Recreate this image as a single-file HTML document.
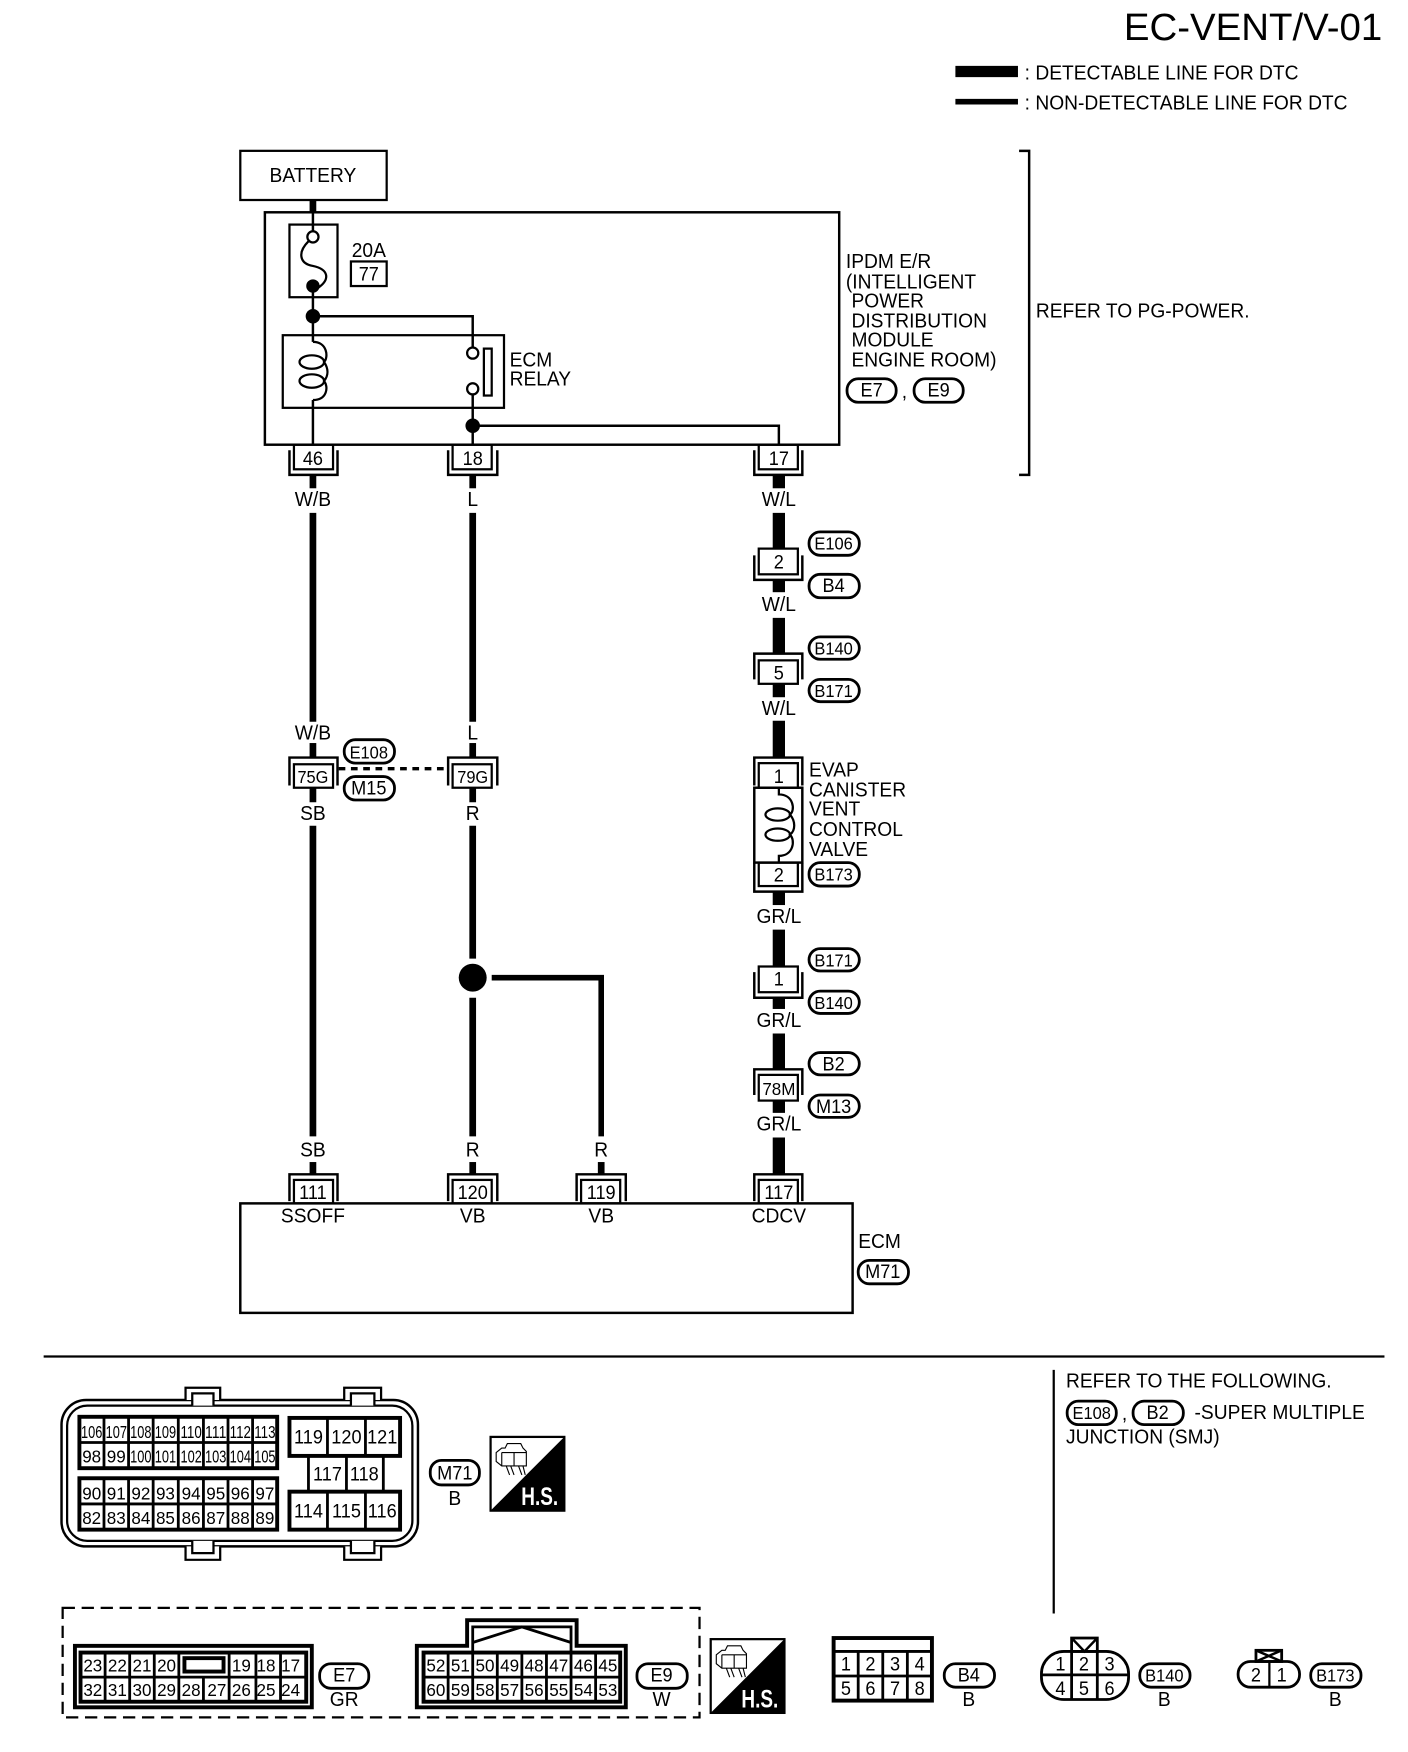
<!DOCTYPE html>
<html><head><meta charset="utf-8"><style>
html,body{margin:0;padding:0;background:#fff}
svg{display:block}
text{font-family:"Liberation Sans",sans-serif;font-size:18px;fill:#000;transform-box:fill-box;transform-origin:0 50%;transform:scaleX(.955)}
.m{text-anchor:middle}
.s{font-size:16px;text-anchor:middle}
.n{font-size:17px;text-anchor:middle}
.l{font-size:17px;text-anchor:middle}
.m,.s,.n,.l{transform-origin:50% 50%}
rect,path,circle,line,ellipse{fill:none;stroke:#000;stroke-width:2}
.w6{stroke-width:6}.w5{stroke-width:5}.w11{stroke-width:11}.w3{stroke-width:2.2}
.g{stroke-width:2.5}.o{stroke-width:3.5}
.f{fill:#000;stroke:none}
.ov{stroke-width:2.5}
</style></head><body>
<svg xmlns="http://www.w3.org/2000/svg" width="1408" height="1752" viewBox="0 0 1260 1568">
<rect x="0" y="0" width="1260" height="1568" style="fill:#fff;stroke:none"/>
<text x="1237" y="36" text-anchor="end" style="font-size:34.4px;transform:none">EC-VENT/V-01</text>
<line x1="855" y1="64" x2="911" y2="64" style="stroke-width:10"/>
<line x1="855" y1="91" x2="911" y2="91" class="w5"/>
<text x="917" y="71">: DETECTABLE LINE FOR DTC</text>
<text x="917" y="98">: NON-DETECTABLE LINE FOR DTC</text>

<rect x="215" y="135" width="131" height="44"/>
<text x="280" y="163" class="m">BATTERY</text>
<line x1="280" y1="179" x2="280" y2="190" class="w6"/>
<rect x="237" y="190" width="514" height="208" class="w3"/>
<rect x="259" y="201" width="43" height="65"/>
<line x1="280" y1="190" x2="280" y2="207" class="w3"/>
<circle cx="280" cy="212" r="5"/>
<path d="M276 216C266 226 268 236 280 238C294 241 296 250 284 258"/>
<circle cx="280" cy="256" r="6" class="f"/>
<line x1="280" y1="256" x2="280" y2="306" class="w3"/>
<circle cx="280" cy="283" r="6.5" class="f"/>
<path d="M280 283H423V311" class="w3"/>
<rect x="253" y="300" width="198" height="65"/>
<path d="M280 306C293 306 294 320 290 324C294 330 294 336 290 341C294 346 293 358 280 358"/>
<ellipse cx="279" cy="324" rx="11" ry="6"/>
<ellipse cx="279" cy="341" rx="11" ry="6"/>
<line x1="280" y1="358" x2="280" y2="398" class="w3"/>
<circle cx="423" cy="316" r="5"/>
<circle cx="423" cy="348" r="5"/>
<rect x="433" y="312" width="7" height="42"/>
<line x1="423" y1="353" x2="423" y2="398" class="w3"/>
<circle cx="423" cy="381" r="6.5" class="f"/>
<path d="M423 381H697V398" class="w3"/>
<text x="330" y="230" class="m">20A</text>
<rect x="314" y="234" width="32" height="22"/>
<text x="330" y="251" class="l">77</text>
<text x="456" y="328">ECM</text>
<text x="456" y="345">RELAY</text>
<text x="757" y="240">IPDM E/R</text>
<text x="757" y="258">(INTELLIGENT</text>
<text x="762" y="275">POWER</text>
<text x="762" y="293">DISTRIBUTION</text>
<text x="762" y="310">MODULE</text>
<text x="762" y="328">ENGINE ROOM)</text>
<rect x="758" y="339" width="44" height="21" rx="10" class="ov"/><text x="780" y="355" class="l">E7</text>
<text x="807" y="356">,</text>
<rect x="818" y="339" width="44" height="21" rx="10" class="ov"/><text x="840" y="355" class="l">E9</text>
<path d="M912 135H921V425H912" class="w3"/>
<text x="927" y="284">REFER TO PG-POWER.</text>

<!-- top connectors -->
<rect x="263" y="398" width="35" height="22"/><text x="280" y="416" class="l">46</text>
<path d="M259 403V425H302V403" class="w3"/>
<rect x="405" y="398" width="35" height="22"/><text x="423" y="416" class="l">18</text>
<path d="M401 403V425H445V403" class="w3"/>
<rect x="679" y="398" width="35" height="22"/><text x="697" y="416" class="l">17</text>
<path d="M675 403V425H718V403" class="w3"/>

<!-- column 280 -->
<line x1="280" y1="425" x2="280" y2="437" class="w6"/>
<text x="280" y="453" class="m">W/B</text>
<line x1="280" y1="459" x2="280" y2="646" class="w6"/>
<text x="280" y="662" class="m">W/B</text>
<line x1="280" y1="665" x2="280" y2="678" class="w6"/>
<path d="M259 703V678H302V703" class="w3"/>
<rect x="263" y="684" width="35" height="21"/><text x="280" y="701" class="s" textLength="29" lengthAdjust="spacingAndGlyphs">75G</text>
<line x1="280" y1="705" x2="280" y2="718" class="w6"/>
<text x="280" y="734" class="m">SB</text>
<line x1="280" y1="739" x2="280" y2="1017" class="w6"/>
<text x="280" y="1035" class="m">SB</text>
<line x1="280" y1="1040" x2="280" y2="1051" class="w6"/>
<path d="M259 1075V1051H302V1075" class="w3"/>
<rect x="263" y="1056" width="35" height="21"/><text x="280" y="1073" class="n">111</text>

<!-- column 423 -->
<line x1="423" y1="425" x2="423" y2="437" class="w6"/>
<text x="423" y="453" class="m">L</text>
<line x1="423" y1="459" x2="423" y2="646" class="w6"/>
<text x="423" y="662" class="m">L</text>
<line x1="423" y1="665" x2="423" y2="678" class="w6"/>
<path d="M401 703V678H445V703" class="w3"/>
<rect x="405" y="684" width="35" height="21"/><text x="423" y="701" class="s" textLength="29" lengthAdjust="spacingAndGlyphs">79G</text>
<line x1="423" y1="705" x2="423" y2="718" class="w6"/>
<text x="423" y="734" class="m">R</text>
<line x1="423" y1="739" x2="423" y2="858" class="w6"/>
<circle cx="423" cy="875" r="12.5" class="f"/>
<line x1="423" y1="893" x2="423" y2="1017" class="w6"/>
<path d="M440 875H538V1017" class="w5"/>
<text x="423" y="1035" class="m">R</text>
<text x="538" y="1035" class="m">R</text>
<line x1="423" y1="1040" x2="423" y2="1051" class="w6"/>
<line x1="538" y1="1040" x2="538" y2="1051" class="w6"/>
<path d="M401 1075V1051H445V1075" class="w3"/>
<rect x="405" y="1056" width="35" height="21"/><text x="423" y="1073" class="n">120</text>
<path d="M516 1075V1051H560V1075" class="w3"/>
<rect x="520" y="1056" width="35" height="21"/><text x="538" y="1073" class="n">119</text>
<line x1="303" y1="688" x2="401" y2="688" style="stroke-width:3;stroke-dasharray:6 5"/>

<!-- column 697 -->
<line x1="697" y1="425" x2="697" y2="437" class="w11"/>
<text x="697" y="453" class="m">W/L</text>
<line x1="697" y1="459" x2="697" y2="491" class="w11"/>
<rect x="679" y="491" width="35" height="23" style="fill:#fff"/><text x="697" y="509" class="l">2</text>
<path d="M675 497V519H718V497" class="w3"/>
<line x1="697" y1="519" x2="697" y2="530" class="w11"/>
<text x="697" y="547" class="m">W/L</text>
<line x1="697" y1="553" x2="697" y2="585" class="w11"/>
<path d="M675 608V585H718V608" class="w3"/>
<rect x="679" y="591" width="35" height="21"/><text x="697" y="608" class="l">5</text>
<line x1="697" y1="612" x2="697" y2="624" class="w11"/>
<text x="697" y="640" class="m">W/L</text>
<line x1="697" y1="645" x2="697" y2="678" class="w11"/>
<path d="M675 703V678H718V703" class="w3"/>
<rect x="679" y="683" width="35" height="22"/><text x="697" y="701" class="l">1</text>
<rect x="675" y="705" width="43" height="67" class="w3"/>
<path d="M697 705V711C710 711 712 725 707 729C712 735 712 743 707 747C712 752 710 766 697 766V772"/>
<ellipse cx="696" cy="729" rx="11" ry="5.500"/>
<ellipse cx="696" cy="747" rx="11" ry="5.500"/>
<rect x="679" y="772" width="35" height="21"/><text x="697" y="789" class="l">2</text>
<path d="M675 772V798H718V772" class="w3"/>
<line x1="697" y1="798" x2="697" y2="810" class="w11"/>
<text x="697" y="826" class="m">GR/L</text>
<line x1="697" y1="832" x2="697" y2="865" class="w11"/>
<rect x="679" y="865" width="35" height="23"/><text x="697" y="882" class="l">1</text>
<path d="M675 870V893H718V870" class="w3"/>
<line x1="697" y1="893" x2="697" y2="903" class="w11"/>
<text x="697" y="919" class="m">GR/L</text>
<line x1="697" y1="925" x2="697" y2="957" class="w11"/>
<path d="M675 980V957H718V980" class="w3"/>
<rect x="679" y="962" width="35" height="23"/><text x="697" y="980" class="s" textLength="31" lengthAdjust="spacingAndGlyphs">78M</text>
<line x1="697" y1="985" x2="697" y2="996" class="w11"/>
<text x="697" y="1012" class="m">GR/L</text>
<line x1="697" y1="1018" x2="697" y2="1051" class="w11"/>
<path d="M675 1075V1051H718V1075" class="w3"/>
<rect x="679" y="1056" width="35" height="21"/><text x="697" y="1073" class="n">117</text>

<!-- ovals -->
<rect x="724" y="476" width="45" height="21" rx="10" class="ov"/><text x="746" y="492" class="s" textLength="36" lengthAdjust="spacingAndGlyphs">E106</text>
<rect x="724" y="514" width="45" height="21" rx="10" class="ov"/><text x="746" y="530" class="l">B4</text>
<rect x="724" y="570" width="45" height="20" rx="10" class="ov"/><text x="746" y="586" class="s" textLength="36" lengthAdjust="spacingAndGlyphs">B140</text>
<rect x="724" y="608" width="45" height="20" rx="10" class="ov"/><text x="746" y="624" class="s" textLength="36" lengthAdjust="spacingAndGlyphs">B171</text>
<rect x="724" y="772" width="45" height="21" rx="10" class="ov"/><text x="746" y="788" class="s" textLength="36" lengthAdjust="spacingAndGlyphs">B173</text>
<rect x="724" y="849" width="45" height="20" rx="10" class="ov"/><text x="746" y="865" class="s" textLength="36" lengthAdjust="spacingAndGlyphs">B171</text>
<rect x="724" y="887" width="45" height="20" rx="10" class="ov"/><text x="746" y="903" class="s" textLength="36" lengthAdjust="spacingAndGlyphs">B140</text>
<rect x="724" y="942" width="45" height="20" rx="10" class="ov"/><text x="746" y="958" class="l">B2</text>
<rect x="724" y="980" width="45" height="20" rx="10" class="ov"/><text x="746" y="996" class="l">M13</text>
<rect x="308" y="662" width="45" height="21" rx="10" class="ov"/><text x="330" y="679" class="s" textLength="36" lengthAdjust="spacingAndGlyphs">E108</text>
<rect x="308" y="695" width="45" height="21" rx="10" class="ov"/><text x="330" y="711" class="l">M15</text>
<rect x="768" y="1128" width="45" height="21" rx="10" class="ov"/><text x="790" y="1144" class="l">M71</text>

<text x="724" y="695">EVAP</text>
<text x="724" y="713">CANISTER</text>
<text x="724" y="730">VENT</text>
<text x="724" y="748">CONTROL</text>
<text x="724" y="766">VALVE</text>

<rect x="215" y="1077" width="548" height="98" class="w3"/>
<text x="280" y="1094" class="m">SSOFF</text>
<text x="423" y="1094" class="m">VB</text>
<text x="538" y="1094" class="m">VB</text>
<text x="697" y="1094" class="m">CDCV</text>
<text x="768" y="1117">ECM</text>

<line x1="39" y1="1214" x2="1239" y2="1214"/>
<line x1="943" y1="1226" x2="943" y2="1444"/>
<text x="954" y="1242">REFER TO THE FOLLOWING.</text>
<rect x="955" y="1254" width="44" height="21" rx="10" class="ov"/><text x="977" y="1270" class="s" textLength="36" lengthAdjust="spacingAndGlyphs">E108</text>
<text x="1004" y="1271">,</text>
<rect x="1014" y="1254" width="45" height="21" rx="10" class="ov"/><text x="1036" y="1270" class="l">B2</text>
<text x="1069" y="1270">-SUPER MULTIPLE</text>
<text x="954" y="1292">JUNCTION (SMJ)</text>

<!-- M71 connector -->
<rect x="55" y="1253" width="319" height="131" rx="22" class="w3"/>
<rect x="60" y="1258" width="309" height="121" rx="18"/>
<path d="M166 1253V1242H197V1253M172 1258V1247H191V1258" style="fill:#fff"/>
<path d="M308 1253V1242H341V1253M314 1258V1247H335V1258" style="fill:#fff"/>
<path d="M166 1384V1396H197V1384M172 1379V1390H191V1379" style="fill:#fff"/>
<path d="M308 1384V1396H341V1384M314 1379V1390H335V1379" style="fill:#fff"/>

<rect x="71" y="1268" width="177" height="46" class="o"/>
<path d="M71 1291H248M93 1268V1314M115 1268V1314M137 1268V1314M159.500 1268V1314M182 1268V1314M204 1268V1314M226 1268V1314" class="g"/>
<g>
<text x="82" y="1287" class="s" textLength="20" lengthAdjust="spacingAndGlyphs">106</text><text x="104" y="1287" class="s" textLength="20" lengthAdjust="spacingAndGlyphs">107</text><text x="126" y="1287" class="s" textLength="20" lengthAdjust="spacingAndGlyphs">108</text><text x="148" y="1287" class="s" textLength="20" lengthAdjust="spacingAndGlyphs">109</text><text x="171" y="1287" class="s" textLength="20" lengthAdjust="spacingAndGlyphs">110</text><text x="193" y="1287" class="s" textLength="20" lengthAdjust="spacingAndGlyphs">111</text><text x="215" y="1287" class="s" textLength="20" lengthAdjust="spacingAndGlyphs">112</text><text x="237" y="1287" class="s" textLength="20" lengthAdjust="spacingAndGlyphs">113</text>
<text x="82" y="1309" class="s">98</text><text x="104" y="1309" class="s">99</text><text x="126" y="1309" class="s" textLength="20" lengthAdjust="spacingAndGlyphs">100</text><text x="148" y="1309" class="s" textLength="20" lengthAdjust="spacingAndGlyphs">101</text><text x="171" y="1309" class="s" textLength="20" lengthAdjust="spacingAndGlyphs">102</text><text x="193" y="1309" class="s" textLength="20" lengthAdjust="spacingAndGlyphs">103</text><text x="215" y="1309" class="s" textLength="20" lengthAdjust="spacingAndGlyphs">104</text><text x="237" y="1309" class="s" textLength="20" lengthAdjust="spacingAndGlyphs">105</text>
</g>
<rect x="71" y="1323" width="177" height="46" class="o"/>
<path d="M71 1346H248M93 1323V1369M115 1323V1369M137 1323V1369M159.500 1323V1369M182 1323V1369M204 1323V1369M226 1323V1369" class="g"/>
<g>
<text x="82" y="1342" class="s">90</text><text x="104" y="1342" class="s">91</text><text x="126" y="1342" class="s">92</text><text x="148" y="1342" class="s">93</text><text x="171" y="1342" class="s">94</text><text x="193" y="1342" class="s">95</text><text x="215" y="1342" class="s">96</text><text x="237" y="1342" class="s">97</text>
<text x="82" y="1364" class="s">82</text><text x="104" y="1364" class="s">83</text><text x="126" y="1364" class="s">84</text><text x="148" y="1364" class="s">85</text><text x="171" y="1364" class="s">86</text><text x="193" y="1364" class="s">87</text><text x="215" y="1364" class="s">88</text><text x="237" y="1364" class="s">89</text>
</g>
<rect x="259" y="1269" width="99" height="34" class="o"/>
<path d="M293 1269V1303M327 1269V1303" class="g"/>
<rect x="259" y="1335" width="99" height="34" class="o"/>
<path d="M293 1335V1369M327 1335V1369" class="g"/>
<path d="M276 1303V1335M310 1303V1335M343 1303V1335" class="g"/>
<text x="276" y="1292" class="l">119</text><text x="310" y="1292" class="l">120</text><text x="342" y="1292" class="l">121</text>
<text x="293" y="1325" class="l">117</text><text x="326" y="1325" class="l">118</text>
<text x="276" y="1358" class="l">114</text><text x="310" y="1358" class="l">115</text><text x="342" y="1358" class="l">116</text>
<rect x="385" y="1307" width="44" height="22" rx="10" class="ov"/><text x="407" y="1324" class="l">M71</text>
<text x="407" y="1347" class="m">B</text>

<!-- HS icon 1 -->
<rect x="439" y="1286" width="66" height="66"/>
<path d="M505 1286V1352H439Z" class="f"/>
<path d="M444 1300L449 1296H452L454 1292H466L468 1296L471 1299V1312H449L444 1308ZM449 1300H471M449 1300V1312M460 1300V1312M453 1312L456 1320M457 1312L460 1320M464 1312L467 1320M468 1312L470 1320" style="stroke-width:1"/>
<text x="483" y="1347" text-anchor="middle" style="fill:#fff;font-weight:bold;font-size:22px;transform:none" textLength="33" lengthAdjust="spacingAndGlyphs">H.S.</text>

<!-- dashed -->
<rect x="56" y="1439" width="570" height="98" style="stroke-dasharray:11 6"/>

<!-- E7 connector -->
<rect x="67" y="1473" width="212" height="55" class="o"/>
<rect x="72" y="1479" width="202" height="44" class="o"/>
<path d="M72 1501H274M94 1479V1523M116 1479V1523M138 1479V1523M160 1479V1523M182 1501V1523M205 1479V1523M229 1479V1523M251 1479V1523" class="g"/>
<rect x="165" y="1484" width="35" height="12" class="o"/>
<text x="83" y="1496" class="s">23</text><text x="105" y="1496" class="s">22</text><text x="127" y="1496" class="s">21</text><text x="149" y="1496" class="s">20</text><text x="216" y="1496" class="s">19</text><text x="238" y="1496" class="s">18</text><text x="260" y="1496" class="s">17</text>
<text x="83" y="1518" class="s">32</text><text x="105" y="1518" class="s">31</text><text x="127" y="1518" class="s">30</text><text x="149" y="1518" class="s">29</text><text x="171" y="1518" class="s">28</text><text x="194" y="1518" class="s">27</text><text x="216" y="1518" class="s">26</text><text x="238" y="1518" class="s">25</text><text x="260" y="1518" class="s">24</text>
<rect x="286" y="1489" width="44" height="22" rx="10" class="ov"/><text x="308" y="1505" class="l">E7</text>
<text x="308" y="1527" class="m">GR</text>

<!-- E9 connector -->
<path d="M373 1473H418V1450H516V1473H560V1528H373Z" class="o"/>
<path d="M423 1479V1456H511V1479" class="g"/>
<path d="M423 1470L467 1456L511 1470" class="g"/>
<rect x="379" y="1479" width="176" height="44" class="o"/>
<path d="M379 1501H555M401 1479V1523M423 1479V1523M445 1479V1523M467 1479V1523M489 1479V1523M511 1479V1523M533 1479V1523" class="g"/>
<text x="390" y="1496" class="s">52</text><text x="412" y="1496" class="s">51</text><text x="434" y="1496" class="s">50</text><text x="456" y="1496" class="s">49</text><text x="478" y="1496" class="s">48</text><text x="500" y="1496" class="s">47</text><text x="522" y="1496" class="s">46</text><text x="544" y="1496" class="s">45</text>
<text x="390" y="1518" class="s">60</text><text x="412" y="1518" class="s">59</text><text x="434" y="1518" class="s">58</text><text x="456" y="1518" class="s">57</text><text x="478" y="1518" class="s">56</text><text x="500" y="1518" class="s">55</text><text x="522" y="1518" class="s">54</text><text x="544" y="1518" class="s">53</text>
<rect x="570" y="1489" width="45" height="22" rx="10" class="ov"/><text x="592" y="1505" class="l">E9</text>
<text x="592" y="1527" class="m">W</text>

<!-- HS icon 2 -->
<rect x="636" y="1467" width="66" height="66"/>
<path d="M702 1467V1533H636Z" class="f"/>
<path d="M641 1481L646 1477H649L651 1473H663L665 1477L668 1480V1493H646L641 1489ZM646 1481H668M646 1481V1493M657 1481V1493M650 1493L653 1501M654 1493L657 1501M661 1493L664 1501M665 1493L667 1501" style="stroke-width:1"/>
<text x="680" y="1528" text-anchor="middle" style="fill:#fff;font-weight:bold;font-size:22px;transform:none" textLength="33" lengthAdjust="spacingAndGlyphs">H.S.</text>

<!-- B4 -->
<rect x="746" y="1466" width="88" height="56" class="o"/>
<path d="M746 1478H834M746 1500H834M768 1478V1522M790 1478V1522M812 1478V1522" class="g"/>
<text x="757" y="1495" class="l">1</text><text x="779" y="1495" class="l">2</text><text x="801" y="1495" class="l">3</text><text x="823" y="1495" class="l">4</text>
<text x="757" y="1517" class="l">5</text><text x="779" y="1517" class="l">6</text><text x="801" y="1517" class="l">7</text><text x="823" y="1517" class="l">8</text>
<rect x="845" y="1489" width="45" height="21" rx="10" class="ov"/><text x="867" y="1505" class="l">B4</text>
<text x="867" y="1527" class="m">B</text>

<!-- B140 conn -->
<rect x="932" y="1478" width="78" height="43" rx="20" class="g"/>
<path d="M932 1499H1010M959 1478V1521M982 1478V1521" class="g"/>
<rect x="959" y="1466" width="23" height="12" class="g"/>
<path d="M959 1466L970.500 1478L982 1466" class="w3"/>
<text x="949" y="1495" class="l">1</text><text x="970" y="1495" class="l">2</text><text x="993" y="1495" class="l">3</text>
<text x="949" y="1517" class="l">4</text><text x="970" y="1517" class="l">5</text><text x="993" y="1517" class="l">6</text>
<rect x="1020" y="1489" width="45" height="21" rx="10" class="ov"/><text x="1042" y="1505" class="s" textLength="36" lengthAdjust="spacingAndGlyphs">B140</text>
<text x="1042" y="1527" class="m">B</text>

<!-- B173 conn -->
<rect x="1108" y="1487" width="55" height="23" rx="11" class="g"/>
<line x1="1136" y1="1487" x2="1136" y2="1510"/>
<rect x="1124" y="1477" width="23" height="10" class="g"/>
<path d="M1124 1477L1147 1487M1147 1477L1124 1487" class="w3"/>
<text x="1124" y="1505" class="l">2</text><text x="1147" y="1505" class="l">1</text>
<rect x="1173" y="1489" width="45" height="21" rx="10" class="ov"/><text x="1195" y="1505" class="s" textLength="36" lengthAdjust="spacingAndGlyphs">B173</text>
<text x="1195" y="1527" class="m">B</text>
</svg>
</body></html>
